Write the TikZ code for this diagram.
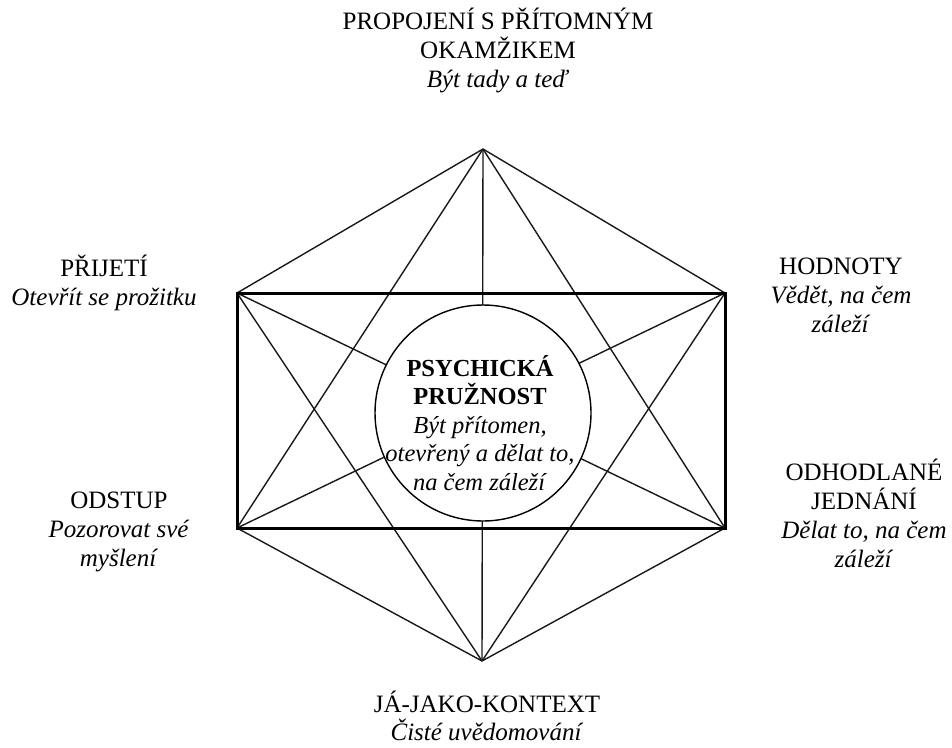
\documentclass[tikz,border=0pt]{standalone}
\usepackage{fontspec}
\setmainfont{Liberation Serif}
\begin{document}
\begin{tikzpicture}[x=1pt,y=-1pt,
  thinline/.style={line width=1.4pt,black!90},
  thickline/.style={line width=3pt,black},
  lbl/.style={align=center,inner sep=0pt,font=\fontsize{25}{29}\selectfont},
  lblc/.style={align=center,inner sep=0pt,font=\fontsize{24.5}{28.5}\selectfont}]
\useasboundingbox (0,0) rectangle (952,747);
\coordinate (T) at (483,149);
\coordinate (UL) at (237,293);
\coordinate (UR) at (725,293);
\coordinate (LL) at (237,528);
\coordinate (LR) at (725,528);
\coordinate (B) at (482,661);
% hexagon edges and diagonals
\foreach \a/\b in {T/UL,T/UR,T/LL,T/LR,T/B,UL/LR,UL/B,UR/LL,UR/B,LL/B,LR/B,UL/LL,UR/LR}
  \draw[thinline] (\a) -- (\b);
\draw[thickline] (UL) -- (UR) -- (LR) -- (LL) -- cycle;
% centre circle
\node[circle,draw,line width=1.4pt,fill=white,minimum size=216pt,inner sep=0pt] (C) at (483,413) {};
\node[lblc] (ct) at (480,423) {\textbf{PSYCHICKÁ}\\\textbf{PRUŽNOST}\\\textit{Být přítomen,}\\\textit{otevřený a dělat to,}\\\textit{na čem záleží}};
% labels
\node[lbl] (top) at (498,50) {PROPOJENÍ S PŘÍTOMNÝM\\OKAMŽIKEM\\\textit{Být tady a teď}};
\node[lbl] (acc) at (104,283) {PŘIJETÍ\\\textit{Otevřít se prožitku}};
\node[lbl] (val) at (841,295) {HODNOTY\\\textit{Vědět, na čem}\\\textit{záleží}};
\node[lbl] (def) at (119,532) {ODSTUP\\\textit{Pozorovat své}\\\textit{myšlení}};
\node[lbl] (com) at (864,513) {ODHODLANÉ\\JEDNÁNÍ\\\textit{Dělat to, na čem}\\\textit{záleží}};
\node[lbl,font=\fontsize{25}{28}\selectfont] (self) at (487,716) {JÁ-JAKO-KONTEXT\\\textit{Čisté uvědomování}};
\end{tikzpicture}
\end{document}
